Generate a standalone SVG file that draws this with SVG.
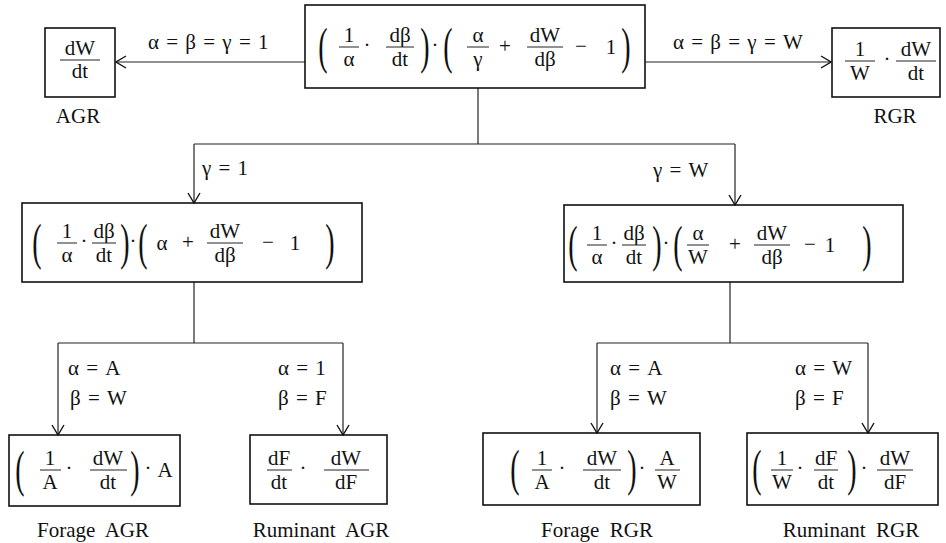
<svg xmlns="http://www.w3.org/2000/svg" width="946" height="543" viewBox="0 0 946 543">
<defs>
<style>
.box{fill:none;stroke:#111;stroke-width:1.6}
.ln{fill:none;stroke:#222;stroke-width:1.2}
.bar{stroke:#222;stroke-width:1}
.t{font-family:"Liberation Serif","Times New Roman",serif;font-size:21px;fill:#111}
.c{font-family:"Liberation Serif","Times New Roman",serif;font-size:21px;fill:#111;word-spacing:2px}
.m{text-anchor:middle}
.lb{font-family:"Liberation Serif","Times New Roman",serif;font-size:21px;fill:#111;white-space:pre}
.p{font-family:"Liberation Serif","Times New Roman",serif;font-size:28px;fill:#111;text-anchor:middle}
</style>
<marker id="ah" viewBox="0 0 12 14" refX="11" refY="7" markerWidth="12" markerHeight="14" markerUnits="userSpaceOnUse" orient="auto">
<path d="M1,1 L11,7 L1,13" fill="none" stroke="#111" stroke-width="1.4"/>
</marker>
</defs>
<rect width="946" height="543" fill="#fff"/>

<g id="connectors">
<line class="ln" x1="305" y1="62" x2="116" y2="62" marker-end="url(#ah)"/>
<line class="ln" x1="645" y1="62" x2="831" y2="62" marker-end="url(#ah)"/>
<text class="c" x="148" y="49">α = β = γ = 1</text>
<text class="c" x="673" y="49">α = β = γ = W</text>
<polyline class="ln" points="478,88 478,144"/>
<polyline class="ln" points="194,144 735,144"/>
<line class="ln" x1="194" y1="144" x2="194" y2="203" marker-end="url(#ah)"/>
<line class="ln" x1="735" y1="144" x2="735" y2="205" marker-end="url(#ah)"/>
<text class="c" x="202" y="175">γ = 1</text>
<text class="c" x="653" y="177">γ = W</text>
<polyline class="ln" points="194,282 194,343"/>
<polyline class="ln" points="58,343 343,343"/>
<line class="ln" x1="58" y1="343" x2="58" y2="435" marker-end="url(#ah)"/>
<line class="ln" x1="343" y1="343" x2="343" y2="435" marker-end="url(#ah)"/>
<text class="c" x="68" y="375">α = A</text>
<text class="c" x="70" y="405">β = W</text>
<text class="c" x="278" y="375">α = 1</text>
<text class="c" x="278" y="405">β = F</text>
<polyline class="ln" points="730,282 730,343"/>
<polyline class="ln" points="597,343 868,343"/>
<line class="ln" x1="597" y1="343" x2="597" y2="433" marker-end="url(#ah)"/>
<line class="ln" x1="868" y1="343" x2="868" y2="433" marker-end="url(#ah)"/>
<text class="c" x="610" y="375">α = A</text>
<text class="c" x="610" y="405">β = W</text>
<text class="c" x="795" y="375">α = W</text>
<text class="c" x="795" y="405">β = F</text>
</g>

<g id="n-top">
<rect class="box" x="305" y="5" width="340" height="83"/>
<text class="p" transform="translate(323,63) scale(1,1.8)">(</text>
<text class="t m" x="349" y="42">1</text><line class="bar" x1="339" x2="359" y1="47" y2="47"/><text class="t m" x="349" y="66">α</text>
<text class="t m" x="367" y="52">·</text>
<text class="t m" x="400" y="42">dβ</text><line class="bar" x1="386" x2="414" y1="47" y2="47"/><text class="t m" x="400" y="66">dt</text>
<text class="p" transform="translate(425,63) scale(1,1.8)">)</text>
<text class="t m" x="435" y="52">·</text>
<text class="p" transform="translate(448,63) scale(1,1.8)">(</text>
<text class="t m" x="478" y="42">α</text><line class="bar" x1="467" x2="489" y1="47" y2="47"/><text class="t m" x="478" y="66">γ</text>
<text class="t m" x="505" y="53">+</text>
<text class="t m" x="545" y="42">dW</text><line class="bar" x1="527" x2="563" y1="47" y2="47"/><text class="t m" x="545" y="66">dβ</text>
<text class="t m" x="581" y="53">−</text>
<text class="t m" x="611" y="54">1</text>
<text class="p" transform="translate(626,63) scale(1,1.8)">)</text>
</g>

<g id="n-agr">
<rect class="box" x="45" y="28" width="70" height="69"/>
<text class="t m" x="80" y="55">dW</text><line class="bar" x1="60" x2="100" y1="60" y2="60"/><text class="t m" x="80" y="78">dt</text>
<text class="lb m" x="78" y="123">AGR</text>
</g>

<g id="n-rgr">
<rect class="box" x="832" y="28" width="108" height="69"/>
<text class="t m" x="860" y="56">1</text><line class="bar" x1="845" x2="875" y1="61" y2="61"/><text class="t m" x="860" y="80">W</text>
<text class="t m" x="887" y="66">·</text>
<text class="t m" x="916" y="56">dW</text><line class="bar" x1="896" x2="936" y1="61" y2="61"/><text class="t m" x="916" y="80">dt</text>
<text class="lb m" x="895" y="123">RGR</text>
</g>

<g id="n-mid-left">
<rect class="box" x="22" y="203" width="340" height="79"/>
<text class="p" transform="translate(37,259) scale(1,1.8)">(</text>
<text class="t m" x="67" y="238">1</text><line class="bar" x1="57" x2="77" y1="243" y2="243"/><text class="t m" x="67" y="262">α</text>
<text class="t m" x="84" y="248">·</text>
<text class="t m" x="104" y="238">dβ</text><line class="bar" x1="92" x2="116" y1="243" y2="243"/><text class="t m" x="104" y="262">dt</text>
<text class="p" transform="translate(125,259) scale(1,1.8)">)</text>
<text class="t m" x="133" y="248">·</text>
<text class="p" transform="translate(143,259) scale(1,1.8)">(</text>
<text class="t m" x="162" y="250">α</text>
<text class="t m" x="188" y="249">+</text>
<text class="t m" x="225" y="238">dW</text><line class="bar" x1="207" x2="243" y1="243" y2="243"/><text class="t m" x="225" y="262">dβ</text>
<text class="t m" x="268" y="249">−</text>
<text class="t m" x="295" y="250">1</text>
<text class="p" transform="translate(330,259) scale(1,1.8)">)</text>
</g>

<g id="n-mid-right">
<rect class="box" x="564" y="205" width="339" height="77"/>
<text class="p" transform="translate(573,261) scale(1,1.8)">(</text>
<text class="t m" x="597" y="240">1</text><line class="bar" x1="587" x2="607" y1="245" y2="245"/><text class="t m" x="597" y="264">α</text>
<text class="t m" x="614" y="250">·</text>
<text class="t m" x="634" y="240">dβ</text><line class="bar" x1="622" x2="646" y1="245" y2="245"/><text class="t m" x="634" y="264">dt</text>
<text class="p" transform="translate(657,261) scale(1,1.8)">)</text>
<text class="t m" x="666" y="250">·</text>
<text class="p" transform="translate(678,261) scale(1,1.8)">(</text>
<text class="t m" x="698" y="240">α</text><line class="bar" x1="687" x2="709" y1="245" y2="245"/><text class="t m" x="698" y="264">W</text>
<text class="t m" x="735" y="251">+</text>
<text class="t m" x="772" y="240">dW</text><line class="bar" x1="754" x2="790" y1="245" y2="245"/><text class="t m" x="772" y="264">dβ</text>
<text class="t m" x="810" y="251">−</text>
<text class="t m" x="830" y="252">1</text>
<text class="p" transform="translate(867,261) scale(1,1.8)">)</text>
</g>

<g id="n-forage-agr">
<rect class="box" x="9" y="435" width="171" height="71"/>
<text class="p" transform="translate(20,486) scale(1,1.8)">(</text>
<text class="t m" x="50" y="465">1</text><line class="bar" x1="40" x2="61" y1="470" y2="470"/><text class="t m" x="50" y="489">A</text>
<text class="t m" x="69" y="475">·</text>
<text class="t m" x="108" y="465">dW</text><line class="bar" x1="90" x2="127" y1="470" y2="470"/><text class="t m" x="108" y="489">dt</text>
<text class="p" transform="translate(135,486) scale(1,1.8)">)</text>
<text class="t m" x="148" y="475">·</text>
<text class="t m" x="165" y="477">A</text>
<text class="lb m" x="93" y="537">Forage  AGR</text>
</g>

<g id="n-ruminant-agr">
<rect class="box" x="250" y="435" width="137" height="69"/>
<text class="t m" x="279" y="465">dF</text><line class="bar" x1="267" x2="292" y1="470" y2="470"/><text class="t m" x="279" y="489">dt</text>
<text class="t m" x="303" y="475">·</text>
<text class="t m" x="346" y="465">dW</text><line class="bar" x1="324" x2="369" y1="470" y2="470"/><text class="t m" x="346" y="489">dF</text>
<text class="lb m" x="321" y="537">Ruminant  AGR</text>
</g>

<g id="n-forage-rgr">
<rect class="box" x="483" y="433" width="217" height="72"/>
<text class="p" transform="translate(515,485) scale(1,1.8)">(</text>
<text class="t m" x="542" y="465">1</text><line class="bar" x1="532" x2="552" y1="470" y2="470"/><text class="t m" x="542" y="489">A</text>
<text class="t m" x="562" y="475">·</text>
<text class="t m" x="602" y="465">dW</text><line class="bar" x1="583" x2="621" y1="470" y2="470"/><text class="t m" x="602" y="489">dt</text>
<text class="p" transform="translate(632,485) scale(1,1.8)">)</text>
<text class="t m" x="642" y="475">·</text>
<text class="t m" x="667" y="465">A</text><line class="bar" x1="655" x2="680" y1="470" y2="470"/><text class="t m" x="667" y="489">W</text>
<text class="lb m" x="597" y="537">Forage  RGR</text>
</g>

<g id="n-ruminant-rgr">
<rect class="box" x="747" y="433" width="191" height="72"/>
<text class="p" transform="translate(757,485) scale(1,1.8)">(</text>
<text class="t m" x="782" y="465">1</text><line class="bar" x1="771" x2="793" y1="470" y2="470"/><text class="t m" x="782" y="489">W</text>
<text class="t m" x="800" y="475">·</text>
<text class="t m" x="826" y="465">dF</text><line class="bar" x1="814" x2="838" y1="470" y2="470"/><text class="t m" x="826" y="489">dt</text>
<text class="p" transform="translate(852,485) scale(1,1.8)">)</text>
<text class="t m" x="864" y="475">·</text>
<text class="t m" x="895" y="465">dW</text><line class="bar" x1="877" x2="913" y1="470" y2="470"/><text class="t m" x="895" y="489">dF</text>
<text class="lb m" x="851" y="537">Ruminant  RGR</text>
</g>
</svg>
